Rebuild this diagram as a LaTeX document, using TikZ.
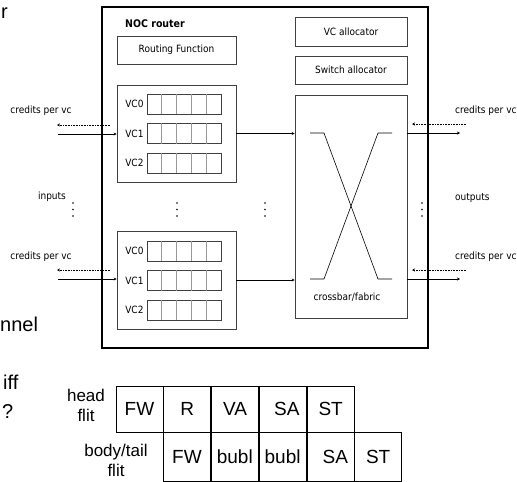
\documentclass[tikz,border=0pt]{standalone}
\usepackage{fontspec}
\setmainfont{Liberation Sans}
\newfontfamily\djfont{DejaVu Sans Condensed}
\usetikzlibrary{arrows.meta,positioning}

\tikzset{
  unit/.style={draw=black!75, rectangle, inner sep=0pt, line width=0.6pt, font=\djfont\fontsize{10}{12}\selectfont},
  lbl/.style={inner sep=0pt, font=\djfont\fontsize{10}{12}\selectfont},
  flow/.style={-{Stealth[length=3pt,width=3pt]}, line width=0.6pt},
  credit/.style={densely dotted, -{Stealth[length=3pt,width=3pt]}, line width=0.6pt},
  stage/.style={draw, rectangle, inner sep=0pt, minimum width=47pt, line width=0.8pt, font=\fontsize{19}{21}\selectfont},
  frag/.style={inner sep=0pt, font=\fontsize{20}{22}\selectfont},
}

\begin{document}
\begin{tikzpicture}[x=1pt,y=-1pt]
\useasboundingbox (0,0) rectangle (517,482);

\node[frag] (fr1) at (4.5,13) {r};
\node[frag, anchor=west] (fr2) at (0,324) {nnel};
\node[frag, anchor=west] (fr3) at (3,382) {iff};
\node[frag, anchor=west] (fr4) at (2,412) {?};

\node[draw, rectangle, line width=1.5pt, minimum width=326pt, minimum height=341pt] (router) at (265,177.5) {};
\node[lbl, anchor=west, font=\djfont\bfseries\fontsize{10.5}{12}\selectfont] (title) at (125,24) {NOC router};

\node[unit, minimum width=119pt, minimum height=28pt] (routing) at (176.5,50) {Routing Function};
\node[unit, minimum width=119pt, minimum height=97pt] (vcgrpa) at (176.5,133.5) {};
\node[unit, minimum width=119pt, minimum height=98pt] (vcgrpb) at (176.5,280) {};
\node[unit, minimum width=112pt, minimum height=29pt] (vcalloc) at (351,31.5) {VC allocator};
\node[unit, minimum width=112pt, minimum height=28pt] (swalloc) at (351,70) {Switch allocator};
\node[unit, minimum width=112pt, minimum height=223pt] (xbar) at (351,206.5) {};
\node[lbl] (xbarname) at (347,297) {crossbar/fabric};

\foreach \g/\y in {a/104,b/251}
  \foreach \r in {0,1,2} {
    \node[unit, minimum width=74pt, minimum height=20pt] (buf\g\r) at (184,\y+29.5*\r) {};
    \foreach \c in {1,...,4}
      \draw[black!40, line width=0.5pt] ([xshift=\c*14.8pt]buf\g\r.north west) -- ([xshift=\c*14.8pt]buf\g\r.south west);
    \node[lbl, left=3pt of buf\g\r] (vcname\g\r) {VC\r};
  }

\draw[line width=0.6pt] (310,133) -- (324,133) -- (378,279) -- (392,279);
\draw[line width=0.6pt] (310,279) -- (324,279) -- (378,133) -- (392,133);

\draw[flow] (vcgrpa.east) -- (xbar.west |- vcgrpa.east);
\draw[flow] (vcgrpb.east) -- (xbar.west |- vcgrpb.east);

\coordinate (ina) at (58,134);
\coordinate (inb) at (58,279);
\coordinate (crina) at (110,125);
\coordinate (crinb) at (110,270);
\coordinate (crouta) at (57,125);
\coordinate (croutb) at (57,270);
\draw[flow] (ina) -- (vcgrpa.west |- ina);
\draw[flow] (inb) -- (vcgrpb.west |- inb);
\draw[credit] (crina) -- (crouta);
\draw[credit] (crinb) -- (croutb);
\node[lbl] (credita) at (41,111) {credits per vc};
\node[lbl] (creditb) at (41,257) {credits per vc};
\node[lbl] (inputs) at (52,197) {inputs};

\coordinate (outa) at (460,133);
\coordinate (outb) at (460,279);
\coordinate (crxa) at (466,124);
\coordinate (crxb) at (466,270);
\coordinate (crya) at (412,124);
\coordinate (cryb) at (412,270);
\draw[flow] (xbar.east |- outa) -- (outa);
\draw[flow] (xbar.east |- outb) -- (outb);
\draw[credit] (crxa) -- (crya);
\draw[credit] (crxb) -- (cryb);
\node[lbl, anchor=west] (creditc) at (455,111) {credits per vc};
\node[lbl, anchor=west] (creditd) at (455,257) {credits per vc};
\node[lbl, anchor=west] (outputs) at (455,198) {outputs};

\foreach \x in {73,177,265,422}
  \foreach \d in {0,1,2}
    \fill (\x,203+6.5*\d) circle (0.9pt);

\node[stage, minimum height=46pt] (hfw) at (139.5,409) {FW};
\node[stage, minimum height=46pt, right=0pt of hfw] (hr) {R};
\node[stage, minimum height=46pt, right=0pt of hr] (hva) {VA};
\node[stage, minimum height=46pt, right=0pt of hva] (hsa) {\hspace{8pt}SA};
\node[stage, minimum height=46pt, right=0pt of hsa] (hst) {ST\hspace{6pt}};
\node[stage, minimum height=49pt] (bfw) at (187,456.5) {FW};
\node[stage, minimum height=49pt, right=0pt of bfw] (bba) {bubl\hspace{4pt}};
\node[stage, minimum height=49pt, right=0pt of bba] (bbb) {bubl\hspace{3pt}};
\node[stage, minimum height=49pt, right=0pt of bbb] (bsa) {\hspace{10pt}SA};
\node[stage, minimum height=49pt, right=0pt of bsa] (bst) {ST};

\node[align=center, inner sep=0pt, font=\fontsize{17}{20}\selectfont] (headlbl) at (86,405) {head\\flit};
\node[align=center, inner sep=0pt, font=\fontsize{17}{20}\selectfont] (bodylbl) at (116,460) {body/tail\\flit};
\end{tikzpicture}
\end{document}
